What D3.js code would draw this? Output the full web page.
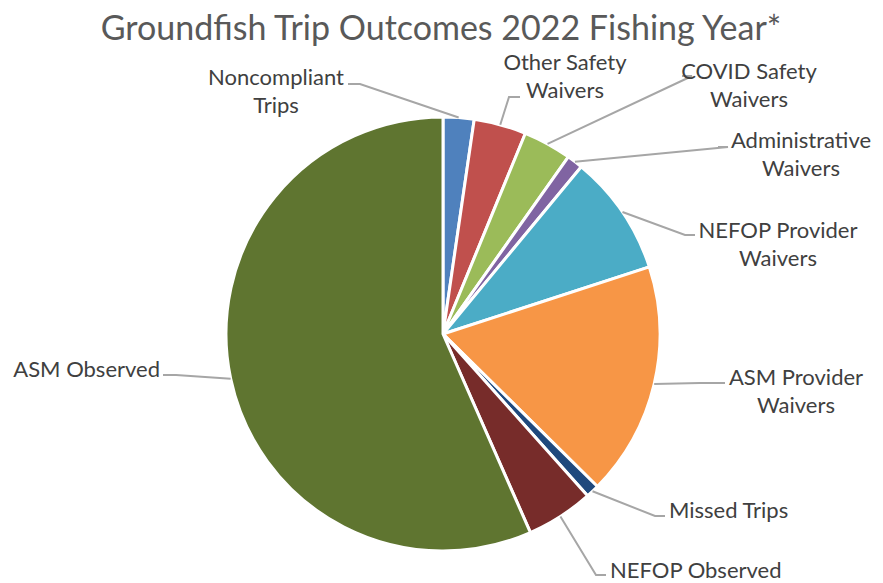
<!DOCTYPE html>
<html><head><meta charset="utf-8">
<script src="https://cdn.jsdelivr.net/npm/d3@7"></script>
<style>body{margin:0;background:#fff;} text{font-family:Lato,"Open Sans",sans-serif;}</style>
</head><body>
<svg id="c" width="883" height="583"></svg>
<script>
const title = "Groundfish Trip Outcomes 2022 Fishing Year*";
const categories = ["Noncompliant Trips","Other Safety Waivers","COVID Safety Waivers","Administrative Waivers","NEFOP Provider Waivers","ASM Provider Waivers","Missed Trips","NEFOP Observed","ASM Observed"];
const labelLines = [["Noncompliant","Trips"],["Other Safety","Waivers"],["COVID Safety","Waivers"],["Administrative","Waivers"],["NEFOP Provider","Waivers"],["ASM Provider","Waivers"],["Missed Trips"],["NEFOP Observed"],["ASM Observed"]];
const values = [2.3, 3.9, 3.6, 1.2, 9.0, 17.4, 1.0, 5.0, 56.6];
const colors = ["#4f81bd","#c0504d","#9bbb59","#8064a2","#4bacc6","#f79646","#1f497d","#772c2a","#5f7530"];

// label layout: elbow point, line end, text anchor, text position
const labelLayout = [
  {elbow:[360,84], end:[348,84], anchor:"middle", x:276, y:85},
  {elbow:[509,97], end:[520,97], anchor:"middle", x:565, y:70},
  {elbow:[692,76], end:[682,76], anchor:"middle", x:749, y:79},
  {elbow:[728,147], end:[718,147], anchor:"middle", x:801, y:148},
  {elbow:[685,235], end:[695,235], anchor:"middle", x:778, y:238},
  {elbow:[700,383], end:[725,383], anchor:"middle", x:796, y:385},
  {elbow:[655,516], end:[665,516], anchor:"start", x:669, y:518},
  {elbow:[596,575], end:[606,575], anchor:"start", x:610, y:578},
  {elbow:[176,375], end:[163,375], anchor:"end", x:160, y:377}
];

const svg = d3.select("#c");
const cx = 443, cy = 334, r = 217;

svg.append("text").attr("x", 441).attr("y", 40).attr("text-anchor","middle")
  .attr("font-size", 34).attr("fill","#595959").text(title);

const pie = d3.pie().sort(null).value(d => d)(values);
const arc = d3.arc().innerRadius(0).outerRadius(r);
const g = svg.append("g").attr("transform", `translate(${cx},${cy})`);
g.selectAll("path").data(pie).join("path")
  .attr("d", arc).attr("fill", (d,i) => colors[i])
  .attr("stroke","#fff").attr("stroke-width",3).attr("stroke-linejoin","round");

// leader lines
pie.forEach((d,i) => {
  const a = (d.startAngle + d.endAngle)/2;
  const p0 = [cx + r*Math.sin(a), cy - r*Math.cos(a)];
  const L = labelLayout[i];
  svg.append("polyline")
    .attr("points", [p0, L.elbow, L.end].map(p => p.join(",")).join(" "))
    .attr("fill","none").attr("stroke","#a6a6a6").attr("stroke-width",2);
  const t = svg.append("text").attr("text-anchor", L.anchor)
    .attr("font-size", 22).attr("fill","#404040");
  labelLines[i].forEach((ln, j) => {
    t.append("tspan").attr("x", L.x).attr("y", L.y + j*28).text(ln);
  });
});
</script>
</body></html>
